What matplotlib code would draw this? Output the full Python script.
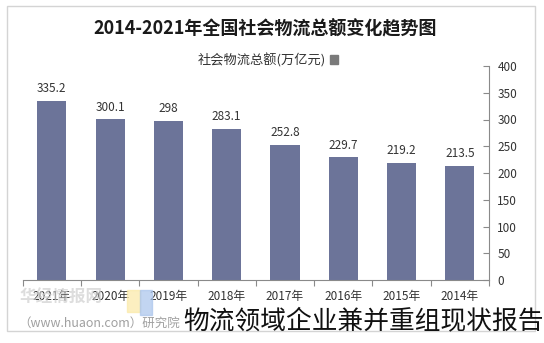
import matplotlib
matplotlib.use("Agg")
import matplotlib.pyplot as plt
from matplotlib.patches import Patch, Rectangle

plt.rcParams['font.family'] = ['Noto Sans CJK SC', 'DejaVu Sans']

# reference is laid out mirrored: newest year on the left, value axis on the right
years = ["2021年", "2020年", "2019年", "2018年", "2017年", "2016年", "2015年", "2014年"]
totals = [335.2, 300.1, 298, 283.1, 252.8, 229.7, 219.2, 213.5]
labels = ["335.2", "300.1", "298", "283.1", "252.8", "229.7", "219.2", "213.5"]
yticks = [0, 50, 100, 150, 200, 250, 300, 350, 400]

title = "2014-2021年全国社会物流总额变化趋势图"
series_name = "社会物流总额(万亿元)"
caption = "物流领域企业兼并重组现状报告"

W, H = 544, 343
bar_color = "#6c7499"
axis_color = "#8a8a8a"
text_color = "#333333"

fig = plt.figure(figsize=(W / 100, H / 100), dpi=100)

# light frame around the chart
fig.patches.append(Rectangle((7 / W, 1 - 331 / H), 528 / W, 325 / H,
                             transform=fig.transFigure, fill=False,
                             edgecolor="#d4d4d4", linewidth=1))

ax = fig.add_axes([22.7 / W, 63 / H, (489 - 22.7) / W, 214 / H])
x = list(range(len(years)))
bars = ax.bar(x, totals, width=0.5, color=bar_color, zorder=2)
for b, lab in zip(bars, labels):
    ax.annotate(lab, (b.get_x() + b.get_width() / 2, b.get_height()),
                xytext=(0, 4), textcoords="offset points",
                ha="center", va="bottom", fontsize=8.5, color=text_color)

ax.set_xlim(-0.5, len(years) - 0.5)
ax.set_ylim(0, 400)
ax.set_yticks(yticks)
ax.yaxis.tick_right()
ax.tick_params(axis="y", direction="in", length=4, color=axis_color,
               labelsize=8.5, labelcolor=text_color, pad=6)

ax.set_xticks([i - 0.5 for i in range(len(years) + 1)])
ax.set_xticklabels([])
ax.set_xticks(x, minor=True)
ax.set_xticklabels(years, minor=True)
ax.tick_params(axis="x", which="major", direction="out", length=4, color=axis_color)
ax.tick_params(axis="x", which="minor", length=0, labelsize=8.5,
               labelcolor=text_color, pad=7)

for side in ("top", "left"):
    ax.spines[side].set_visible(False)
for side in ("right", "bottom"):
    ax.spines[side].set_color(axis_color)

fig.text(265 / W, 1 - 29 / H, title, ha="center", va="center",
         fontsize=13, fontweight="bold", color="#1a1a1a")

fig.legend(handles=[Patch(color="#7a7a7a", label=series_name)],
           loc="center", bbox_to_anchor=(268 / W, 1 - 60 / H),
           frameon=False, markerfirst=False, fontsize=9.5,
           handlelength=0.6, handleheight=0.6, handletextpad=0.3,
           labelcolor=text_color)

# faint watermark at bottom left
fig.patches.append(Rectangle((127 / W, 1 - 312 / H), 13 / W, 22 / H,
                             transform=fig.transFigure, color="#fbe9a6",
                             alpha=0.7, zorder=0))
fig.patches.append(Rectangle((140 / W, 1 - 315 / H), 12 / W, 25 / H,
                             transform=fig.transFigure, color="#a9c4ec",
                             alpha=0.7, zorder=0))
fig.text(20 / W, 1 - 298 / H, "华经情报网", ha="left", va="center",
         fontsize=12, fontweight="bold", color="#cfcfcf", alpha=0.7)
fig.text(18 / W, 1 - 323 / H, "（www.huaon.com）研究院", ha="left", va="center",
         fontsize=9, color="#a0a0a0")

fig.text(1.0, 1 - 321 / H, caption, ha="right", va="center",
         fontsize=18.5, color="#111111")

fig.savefig("out.png", dpi=100)
